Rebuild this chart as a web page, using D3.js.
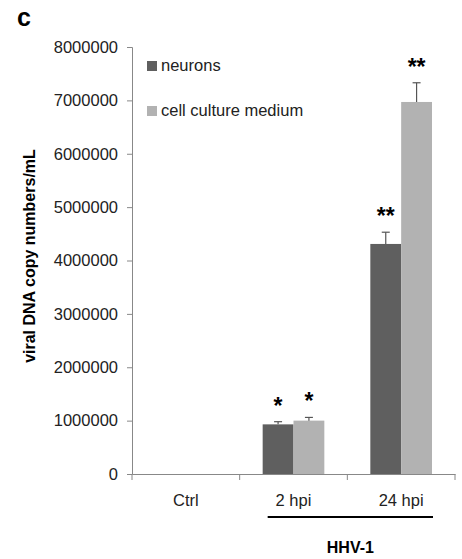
<!DOCTYPE html>
<html>
<head>
<meta charset="utf-8">
<script src="https://cdn.jsdelivr.net/npm/d3@7"></script>
<style>
  body { margin: 0; background: #fff; }
  text { font-family: "Liberation Sans", Arial, sans-serif; }
</style>
</head>
<body>
<div id="chart"></div>
<script>
// data
var categories = ["Ctrl", "2 hpi", "24 hpi"];
var seriesNames = ["neurons", "cell culture medium"];
var neurons = [0, 930000, 4310000];
var neuronsErr = [0, 50000, 220000];
var medium = [0, 1000000, 6970000];
var mediumErr = [0, 60000, 360000];
var stars = [["", ""], ["*", "*"], ["**", "**"]];
var yTicks = [0, 1000000, 2000000, 3000000, 4000000, 5000000, 6000000, 7000000, 8000000];

function init() {
  var width = 462, height = 559;
  var svg = d3.select("#chart").append("svg")
      .attr("width", width)
      .attr("height", height);

  var x0 = d3.scaleBand().domain(categories).range([132, 455]);
  var x1 = d3.scaleBand().domain(seriesNames).range([23, x0.bandwidth() - 23]);
  var y = d3.scaleLinear().domain([0, 8000000]).range([474, 47]);
  var colors = { "neurons": "#5f5f5f", "cell culture medium": "#b2b2b2" };

  // panel letter
  svg.append("text").attr("x", 17).attr("y", 26)
     .style("font-size", "25px").style("font-weight", "bold").text("c");

  // y axis
  var yAxis = svg.append("g").attr("transform", "translate(132,0)")
     .call(d3.axisLeft(y).tickValues(yTicks).tickSize(5).tickPadding(9).tickFormat(d3.format("d")));
  yAxis.select(".domain").attr("stroke", "#888");
  yAxis.selectAll(".tick line").attr("stroke", "#888");
  yAxis.selectAll("text").style("font-size", "16.5px").attr("fill", "#222");

  // x axis
  var xAxis = svg.append("g").attr("transform", "translate(0,474)")
     .call(d3.axisBottom(x0).tickSize(0).tickPadding(20));
  xAxis.select(".domain").attr("stroke", "#888");
  xAxis.selectAll("text").style("font-size", "16.5px").attr("fill", "#222");
  // boundary ticks between categories
  var bounds = categories.map(function(c) { return x0(c); }).concat([x0.range()[1]]);
  svg.selectAll(".btick").data(bounds).enter().append("line")
     .attr("x1", function(d) { return d; }).attr("x2", function(d) { return d; })
     .attr("y1", 474).attr("y2", 480).attr("stroke", "#888");

  // y label
  svg.append("text")
     .attr("transform", "translate(35,256) rotate(-90)")
     .attr("text-anchor", "middle")
     .style("font-size", "16px").style("font-weight", "bold")
     .text("viral DNA copy numbers/mL");

  // bars
  var rows = categories.map(function(c, i) {
    return [
      { cat: c, key: seriesNames[0], v: neurons[i], e: neuronsErr[i], s: stars[i][0] },
      { cat: c, key: seriesNames[1], v: medium[i], e: mediumErr[i], s: stars[i][1] }
    ];
  });
  var flat = [].concat.apply([], rows);

  svg.selectAll(".bar").data(flat.filter(function(d) { return d.v > 0; })).enter().append("rect")
     .attr("x", function(d) { return x0(d.cat) + x1(d.key); })
     .attr("width", x1.bandwidth())
     .attr("y", function(d) { return y(d.v); })
     .attr("height", function(d) { return y(0) - y(d.v); })
     .attr("fill", function(d) { return colors[d.key]; });

  // error bars
  var eb = svg.selectAll(".err").data(flat.filter(function(d) { return d.v > 0; })).enter().append("g")
     .attr("stroke", "#555").attr("stroke-width", 1.2);
  eb.append("line")
     .attr("x1", function(d) { return x0(d.cat) + x1(d.key) + x1.bandwidth() / 2; })
     .attr("x2", function(d) { return x0(d.cat) + x1(d.key) + x1.bandwidth() / 2; })
     .attr("y1", function(d) { return y(d.v); })
     .attr("y2", function(d) { return y(d.v + d.e); });
  eb.append("line")
     .attr("x1", function(d) { return x0(d.cat) + x1(d.key) + x1.bandwidth() / 2 - 4; })
     .attr("x2", function(d) { return x0(d.cat) + x1(d.key) + x1.bandwidth() / 2 + 4; })
     .attr("y1", function(d) { return y(d.v + d.e); })
     .attr("y2", function(d) { return y(d.v + d.e); });

  // significance stars
  svg.selectAll(".star").data(flat.filter(function(d) { return d.s; })).enter().append("text")
     .attr("x", function(d) { return x0(d.cat) + x1(d.key) + x1.bandwidth() / 2; })
     .attr("y", function(d) { return y(d.v + d.e) - 8; })
     .attr("text-anchor", "middle")
     .style("font-size", "23px").style("font-weight", "bold")
     .text(function(d) { return d.s; });

  // legend
  var leg = svg.selectAll(".leg").data(seriesNames).enter().append("g")
     .attr("transform", function(d, i) { return "translate(147," + (61 + i * 45) + ")"; });
  leg.append("rect").attr("width", 10).attr("height", 10)
     .attr("fill", function(d) { return colors[d]; });
  leg.append("text").attr("x", 14).attr("y", 10)
     .style("font-size", "16.5px").attr("fill", "#222")
     .text(function(d) { return d; });

  // HHV-1 bracket
  svg.append("line")
     .attr("x1", x0("2 hpi") + 28).attr("x2", x0("24 hpi") + x0.bandwidth() - 22)
     .attr("y1", 517).attr("y2", 517)
     .attr("stroke", "#000").attr("stroke-width", 2);
  svg.append("text")
     .attr("x", x0("24 hpi") + 3).attr("y", 553)
     .attr("text-anchor", "middle")
     .style("font-size", "16px").style("font-weight", "bold")
     .text("HHV-1");
}
window.onload = init;
</script>
</body>
</html>
